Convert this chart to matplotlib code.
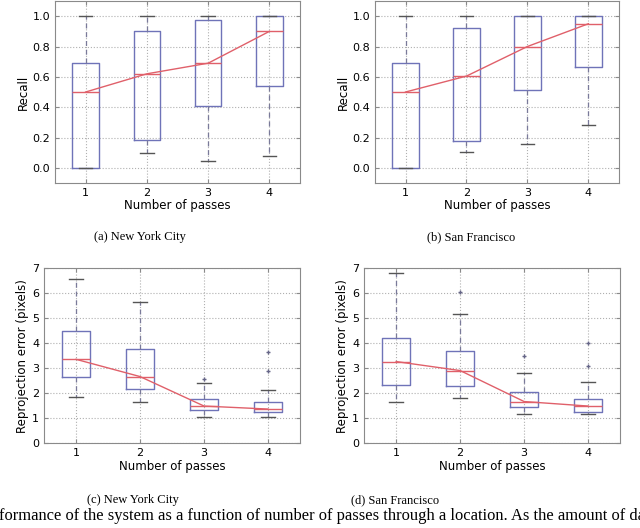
import matplotlib
matplotlib.use('Agg')
import matplotlib.pyplot as plt

# Datos
passes = [1, 2, 3, 4]

# Recall - New York City
nyc_rec_lo = [0.0, 0.10, 0.045, 0.075]
nyc_rec_q1 = [0.0, 0.185, 0.41, 0.54]
nyc_rec_med = [0.5, 0.62, 0.69, 0.90]
nyc_rec_q3 = [0.69, 0.90, 0.975, 1.0]
nyc_rec_hi = [1.0, 1.0, 1.0, 1.0]
nyc_rec_fliers = [[], [], [], []]

# Recall - San Francisco
sf_rec_lo = [0.0, 0.105, 0.155, 0.28]
sf_rec_q1 = [0.0, 0.175, 0.51, 0.665]
sf_rec_med = [0.5, 0.605, 0.80, 0.95]
sf_rec_q3 = [0.69, 0.92, 1.0, 1.0]
sf_rec_hi = [1.0, 1.0, 1.0, 1.0]
sf_rec_fliers = [[], [], [], []]

# Reprojection error - New York City
nyc_err_lo = [1.87, 1.64, 1.04, 1.04]
nyc_err_q1 = [2.67, 2.16, 1.33, 1.24]
nyc_err_med = [3.36, 2.67, 1.49, 1.37]
nyc_err_q3 = [4.49, 3.76, 1.76, 1.67]
nyc_err_hi = [6.56, 5.67, 2.43, 2.13]
nyc_err_fliers = [[], [], [2.56], [2.89, 3.67]]

# Reprojection error - San Francisco
sf_err_lo = [1.64, 1.83, 1.17, 1.17]
sf_err_q1 = [2.33, 2.29, 1.47, 1.27]
sf_err_med = [3.27, 2.91, 1.67, 1.49]
sf_err_q3 = [4.23, 3.71, 2.04, 1.76]
sf_err_hi = [6.8, 5.16, 2.83, 2.45]
sf_err_fliers = [[], [6.07], [3.49], [3.09, 4.0]]

BLUE = '#6f73b8'
RED = '#e0606a'
GRAY = '#8a8a8a'


def make_stats(lo, q1, med, q3, hi, fliers):
    return [dict(whislo=a, q1=b, med=c, q3=d, whishi=e, fliers=f)
            for a, b, c, d, e, f in zip(lo, q1, med, q3, hi, fliers)]


def panel(ax, stats, meds, ylabel, ylim, yticks, fmt):
    ax.bxp(stats, positions=passes, widths=0.43, capwidths=0.22,
           showfliers=True,
           boxprops=dict(color=BLUE, linewidth=1.0),
           whiskerprops=dict(color='#7a7a9a', linewidth=0.9, linestyle=(0, (4, 3))),
           capprops=dict(color='#555555', linewidth=1.0),
           medianprops=dict(color=RED, linewidth=1.0),
           flierprops=dict(marker='+', markeredgecolor='#666688', markersize=3,
                           linestyle='none'))
    ax.plot(passes, meds, color=RED, linewidth=1.0)
    ax.set_xlim(0.5, 4.5)
    ax.set_ylim(*ylim)
    ax.set_yticks(yticks)
    ax.set_yticklabels([fmt.format(v) for v in yticks])
    ax.set_xticks(passes)
    ax.grid(True, linestyle=':', color='#b0b0b0', linewidth=0.8)
    ax.set_axisbelow(True)
    for s in ax.spines.values():
        s.set_color(GRAY)
    ax.tick_params(direction='in', length=3, color=GRAY, labelsize=8,
                   top=True, right=True)
    ax.set_xlabel('Number of passes', fontsize=8.5, labelpad=1)
    ax.set_ylabel(ylabel, fontsize=8.5, labelpad=2)


fig = plt.figure(figsize=(6.4, 5.28), dpi=100)

ax_a = fig.add_axes([0.0859, 0.6534, 0.383, 0.3447])
ax_b = fig.add_axes([0.586, 0.6534, 0.381, 0.3447])
ax_c = fig.add_axes([0.0688, 0.1604, 0.4, 0.3314])
ax_d = fig.add_axes([0.569, 0.1604, 0.4, 0.3314])

rec_ticks = [0.0, 0.2, 0.4, 0.6, 0.8, 1.0]
err_ticks = [0, 1, 2, 3, 4, 5, 6, 7]

panel(ax_a, make_stats(nyc_rec_lo, nyc_rec_q1, nyc_rec_med, nyc_rec_q3, nyc_rec_hi, nyc_rec_fliers),
      nyc_rec_med, 'Recall', (-0.1, 1.1), rec_ticks, '{:.1f}')
panel(ax_b, make_stats(sf_rec_lo, sf_rec_q1, sf_rec_med, sf_rec_q3, sf_rec_hi, sf_rec_fliers),
      sf_rec_med, 'Recall', (-0.1, 1.1), rec_ticks, '{:.1f}')
panel(ax_c, make_stats(nyc_err_lo, nyc_err_q1, nyc_err_med, nyc_err_q3, nyc_err_hi, nyc_err_fliers),
      nyc_err_med, 'Reprojection error (pixels)', (0, 7), err_ticks, '{:d}')
panel(ax_d, make_stats(sf_err_lo, sf_err_q1, sf_err_med, sf_err_q3, sf_err_hi, sf_err_fliers),
      sf_err_med, 'Reprojection error (pixels)', (0, 7), err_ticks, '{:d}')

serif = 'Liberation Serif'
fig.text(0.219, 0.551, '(a) New York City', ha='center', va='center', fontsize=9, family=serif)
fig.text(0.736, 0.551, '(b) San Francisco', ha='center', va='center', fontsize=9, family=serif)
fig.text(0.208, 0.053, '(c) New York City', ha='center', va='center', fontsize=9, family=serif)
fig.text(0.617, 0.053, '(d) San Francisco', ha='center', va='center', fontsize=9, family=serif)
fig.text(-0.002, 0.022, 'formance of the system as a function of number of passes through a location. '
         'As the amount of da', ha='left', va='center', fontsize=11.9, family=serif)

fig.savefig('out.png', dpi=100)
